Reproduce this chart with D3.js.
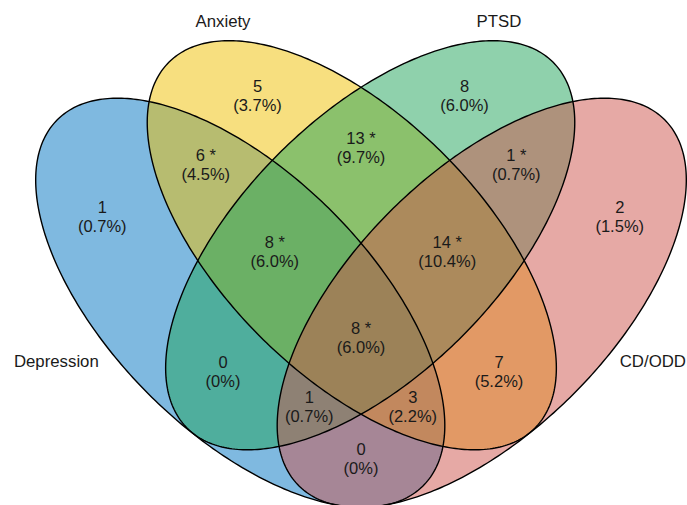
<!DOCTYPE html>
<html>
<head>
<meta charset="utf-8">
<script src="https://cdn.jsdelivr.net/npm/d3@7"></script>
<style>
  html, body { margin: 0; padding: 0; background: #fff; }
  .venn text { font-family: "Liberation Sans", Arial, sans-serif; font-size: 16.5px; fill: #1a1a1a; }
  .venn text.set-name { font-size: 16.8px; }
</style>
</head>
<body>
<div class="venn"></div>
<script>
// sets, in the order they are painted
const sets = ['Depression', 'Anxiety', 'PTSD', 'CD/ODD'];

// regions: letters say which sets the region belongs to (A..D = sets above)
const regionKeys = ['A', 'B', 'C', 'D', 'AB', 'BC', 'CD', 'AC', 'BD', 'ABC', 'BCD', 'ACD', 'ABD', 'AD', 'ABCD'];
const regionCounts = [1, 5, 8, 2, 6, 13, 1, 0, 7, 8, 14, 1, 3, 0, 8];
const regionPercents = ['0.7%', '3.7%', '6.0%', '1.5%', '4.5%', '9.7%', '0.7%', '0%', '5.2%', '6.0%', '10.4%', '0.7%', '2.2%', '0%', '6.0%'];
const regionStars = [false, false, false, false, true, true, true, false, false, true, true, false, false, false, true];

// ---- layout (unit space, y up) ----
const width = 687, height = 505;
const colors = ['#0073C2', '#EFC000', '#1FA45A', '#CD534C'];
const ellipseGeom = [
  {x: -0.7, y: -0.5, rot: Math.PI / 4},
  {x: -0.72 + 2 / 3, y: -1 / 6, rot: Math.PI / 4},
  {x: 0.72 - 2 / 3, y: -1 / 6, rot: -Math.PI / 4},
  {x: 0.7, y: -0.5, rot: -Math.PI / 4}
];
const radA = 0.75, radB = 1.5;
const textPos = {
  A: [-1.5, 0], B: [-0.6, 0.7], C: [0.6, 0.7], D: [1.5, 0],
  AB: [-0.9, 0.3], BC: [0, 0.4], CD: [0.9, 0.3],
  AC: [-0.8, -0.9], BD: [0.8, -0.9],
  ABC: [-0.5, -0.2], BCD: [0.5, -0.2],
  ACD: [-0.3, -1.1], ABD: [0.3, -1.1],
  AD: [0, -1.4], ABCD: [0, -0.7]
};
const setLabelPos = [
  {x: -1.52, y: -0.84, anchor: 'end', base: 'central'},
  {x: -0.8, y: 1.097, anchor: 'middle', base: 'alphabetic'},
  {x: 0.8, y: 1.097, anchor: 'middle', base: 'alphabetic'},
  {x: 1.5, y: -0.84, anchor: 'start', base: 'central'}
];
const lineGap = 9.5;

const x = d3.scaleLinear().domain([-2, 2]).range([361 - 345, 361 + 345]);
const y = d3.scaleLinear().domain([-2, 2]).range([216.5 + 345, 216.5 - 345]);

const svg = d3.select('.venn').append('svg')
  .attr('width', width)
  .attr('height', height);

// outline of one ellipse as points in unit space
function ellipsePoints(g) {
  return d3.range(0, 2 * Math.PI, Math.PI / 180).map(function(t) {
    const xr = radA * Math.cos(t), yr = radB * Math.sin(t);
    return [g.x + xr * Math.cos(g.rot) - yr * Math.sin(g.rot),
            g.y + xr * Math.sin(g.rot) + yr * Math.cos(g.rot)];
  });
}

const line = d3.line()
  .x(function(p) { return x(p[0]); })
  .y(function(p) { return y(p[1]); })
  .curve(d3.curveLinearClosed);

// fills first, then outlines on top
svg.append('g').selectAll('path').data(ellipseGeom).enter().append('path')
  .attr('d', function(d) { return line(ellipsePoints(d)); })
  .attr('fill', function(d, i) { return colors[i]; })
  .attr('fill-opacity', 0.5)
  .attr('stroke', 'none');

svg.append('g').selectAll('path').data(ellipseGeom).enter().append('path')
  .attr('d', function(d) { return line(ellipsePoints(d)); })
  .attr('fill', 'none')
  .attr('stroke', '#000')
  .attr('stroke-width', 1.4);

// region counts
const labels = svg.append('g').selectAll('g').data(regionKeys).enter().append('g')
  .attr('transform', function(k) {
    return 'translate(' + x(textPos[k][0]) + ',' + y(textPos[k][1]) + ')';
  });

labels.append('text')
  .attr('text-anchor', 'middle')
  .attr('dominant-baseline', 'central')
  .attr('y', -lineGap)
  .text(function(k, i) { return regionCounts[i] + (regionStars[i] ? ' *' : ''); });

labels.append('text')
  .attr('text-anchor', 'middle')
  .attr('dominant-baseline', 'central')
  .attr('y', lineGap)
  .text(function(k, i) { return '(' + regionPercents[i] + ')'; });

// set names
svg.append('g').selectAll('text').data(sets).enter().append('text')
  .attr('class', 'set-name')
  .attr('x', function(d, i) { return x(setLabelPos[i].x); })
  .attr('y', function(d, i) { return y(setLabelPos[i].y); })
  .attr('text-anchor', function(d, i) { return setLabelPos[i].anchor; })
  .attr('dominant-baseline', function(d, i) { return setLabelPos[i].base; })
  .text(function(d) { return d; });
</script>
</body>
</html>
